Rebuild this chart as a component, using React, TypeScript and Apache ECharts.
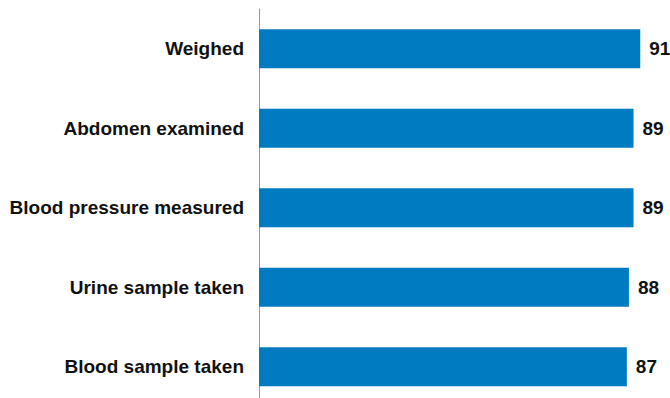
import React, { useEffect, useRef } from "react";
import * as echarts from "echarts";

const categories = ["Weighed", "Abdomen examined", "Blood pressure measured", "Urine sample taken", "Blood sample taken"];
const values = [91.0, 89.4, 89.4, 88.3, 87.8];
const valueLabels = ["91", "89", "89", "88", "87"];

export default function App() {
  const ref = useRef<HTMLDivElement>(null);
  useEffect(() => {
    if (!ref.current) return;
    const chart = echarts.init(ref.current, null, { renderer: "svg" });
    chart.setOption({
      animation: false,
      grid: { left: 259, top: 9, width: 398, height: 397.5, outerBoundsMode: "none", containLabel: false },
      xAxis: {
        type: "value",
        min: 0,
        max: 95,
        show: false,
      },
      yAxis: {
        type: "category",
        data: categories,
        inverse: true,
        axisLine: { show: true, lineStyle: { color: "#999999", width: 1 } },
        axisTick: { show: false },
        axisLabel: {
          color: "#111111",
          fontFamily: "Liberation Sans, Arial, sans-serif",
          fontWeight: "bold",
          fontSize: 19,
          margin: 15,
        },
      },
      series: [
        {
          type: "bar",
          data: values,
          barWidth: 39,
          itemStyle: { color: "#007AC0" },
          label: {
            show: true,
            position: "right",
            distance: 9,
            color: "#111111",
            fontFamily: "Liberation Sans, Arial, sans-serif",
            fontWeight: "bold",
            fontSize: 19,
            formatter: (p: any) => valueLabels[p.dataIndex],
          },
        },
      ],
    });
    return () => chart.dispose();
  }, []);
  return (
    <div
      ref={ref}
      style={{ position: "fixed", left: 0, top: 0, width: 670, height: 398, background: "#ffffff" }}
    />
  );
}
